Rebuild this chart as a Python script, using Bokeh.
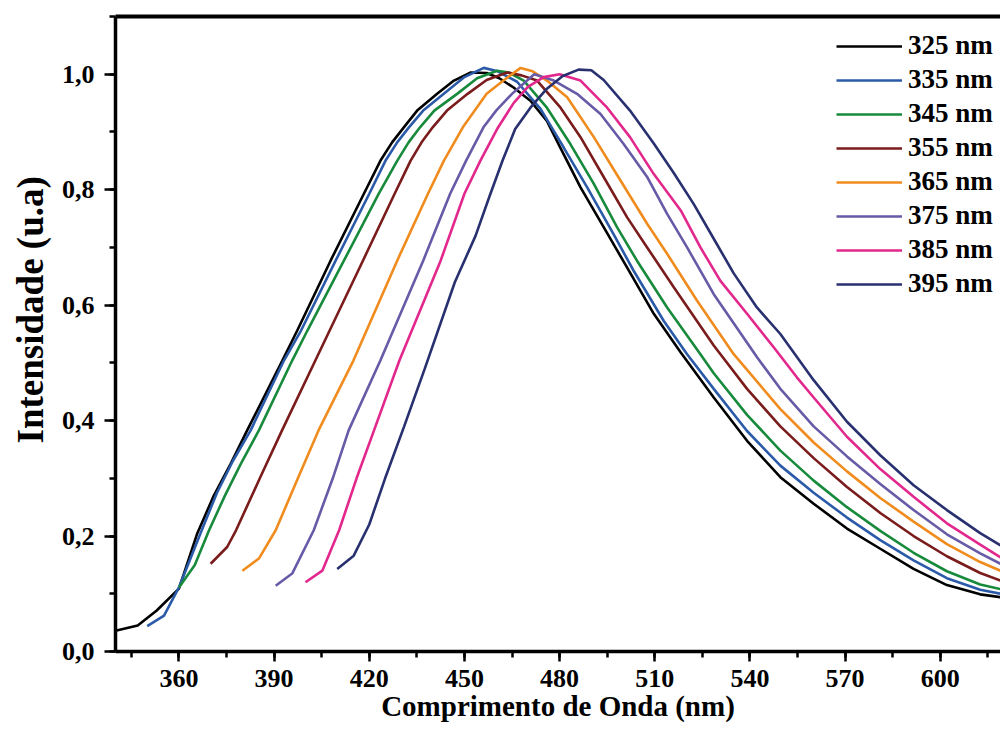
from bokeh.plotting import figure
from bokeh.models import (Range1d, LinearAxis, FixedTicker, SingleIntervalTicker,
                          CustomJSTickFormatter, Legend, LegendItem, Title)
from bokeh.embed import file_html
from bokeh.resources import INLINE

labels = ["325 nm", "335 nm", "345 nm", "355 nm", "365 nm", "375 nm", "385 nm", "395 nm"]
colors = ["#000000", "#2b5ba8", "#178a3c", "#7b1c1c", "#f08c1e", "#675aa6", "#e2288c", "#283070"]

wl_325 = [340, 347, 353, 360, 365.8, 371, 376.3, 381.5, 392.6, 397.3, 407.8, 418.3, 423.5, 427.2, 430.9, 435.1,
          441.4, 446.7, 452, 457, 461, 465.5, 470.8, 476, 480.3, 486.6, 493.9, 501.3, 509.7, 518.2, 528.6,
          539.1, 549.6, 560.1, 570.6, 581.1, 591.6, 602.1, 612.6, 619]
int_325 = [0.036, 0.045, 0.071, 0.109, 0.205, 0.270, 0.325, 0.383, 0.504, 0.556, 0.677, 0.793, 0.850, 0.882, 0.908, 0.937,
           0.966, 0.989, 1.003, 1.002, 0.993, 0.977, 0.954, 0.919, 0.872, 0.804, 0.735, 0.665, 0.585, 0.518, 0.440,
           0.365, 0.302, 0.256, 0.213, 0.178, 0.143, 0.115, 0.099, 0.094]

wl_335 = [350, 355.3, 360, 366.8, 372, 377, 382.6, 393.1, 398.5, 409.4, 420, 425.1, 428.8, 432.5, 437, 443.5,
          450, 456.1, 460.5, 466.6, 474, 481.3, 488.7, 497, 503.3, 512.8, 520.2, 528.6, 539.1, 549.6, 560.1,
          570.6, 581.1, 591.6, 602.1, 612.6, 619]
int_335 = [0.044, 0.062, 0.111, 0.205, 0.275, 0.330, 0.383, 0.504, 0.556, 0.677, 0.793, 0.850, 0.882, 0.908, 0.937, 0.966,
           0.995, 1.011, 1.005, 0.987, 0.940, 0.873, 0.804, 0.723, 0.660, 0.573, 0.515, 0.455, 0.382, 0.322, 0.275,
           0.232, 0.193, 0.158, 0.127, 0.107, 0.100]

wl_345 = [360, 365, 369.5, 374.5, 379.5, 385.2, 395.7, 400.5, 412, 423, 428.8, 432.4, 436, 440.5, 447.7, 454,
          460.3, 464, 468.7, 476, 483.4, 490.8, 498.1, 504.4, 513.9, 524.4, 528.6, 539.1, 549.6, 560.1, 570.6,
          581.1, 591.6, 602.1, 612.6, 619]
int_345 = [0.111, 0.150, 0.210, 0.270, 0.325, 0.383, 0.504, 0.556, 0.677, 0.793, 0.850, 0.882, 0.908, 0.937, 0.966, 0.993,
           1.006, 1.003, 0.989, 0.942, 0.879, 0.810, 0.735, 0.677, 0.596, 0.515, 0.482, 0.410, 0.348, 0.296, 0.250,
           0.209, 0.171, 0.139, 0.116, 0.108]

wl_355 = [370, 375.2, 378, 385.5, 392.5, 403, 418, 428, 433, 436.5, 440, 444.5, 451, 457, 463.5, 468,
          472.9, 480.3, 486.6, 493.9, 501.3, 507.6, 516, 528.6, 539.1, 549.6, 560.1, 570.6, 581.1, 591.6, 602.1,
          612.6, 619]
int_355 = [0.152, 0.181, 0.210, 0.300, 0.383, 0.504, 0.677, 0.793, 0.850, 0.882, 0.908, 0.937, 0.966, 0.990, 1.003, 0.998,
           0.989, 0.942, 0.891, 0.822, 0.752, 0.700, 0.631, 0.530, 0.455, 0.390, 0.335, 0.285, 0.240, 0.200, 0.165,
           0.136, 0.123]

wl_365 = [380, 385.2, 390.5, 397.5, 404, 415, 428.8, 438.5, 443.5, 449.5, 457, 462.5, 467.7, 471.5, 476,
          482.4, 490.8, 499.2, 507.6, 513.9, 523.3, 534.9, 549.6, 560.1, 570.6, 581.1, 591.6, 602.1, 612.6, 619]
int_365 = [0.140, 0.161, 0.210, 0.300, 0.383, 0.504, 0.677, 0.793, 0.850, 0.908, 0.966, 0.990, 1.011, 1.005, 0.989,
           0.960, 0.891, 0.816, 0.741, 0.689, 0.608, 0.515, 0.420, 0.362, 0.312, 0.266, 0.225, 0.186, 0.155, 0.140]

wl_375 = [390.5, 395.7, 402.5, 408.5, 413.5, 423.5, 437, 445.5, 450.5, 456, 460, 465, 472, 478.2, 485.5,
          492.9, 500.2, 507.6, 513.9, 520.2, 528.6, 542.2, 549.6, 560.1, 570.6, 581.1, 591.6, 602.1, 612.6, 619]
int_375 = [0.114, 0.135, 0.210, 0.300, 0.383, 0.504, 0.677, 0.793, 0.850, 0.908, 0.937, 0.966, 1.000, 0.989, 0.966,
           0.931, 0.879, 0.822, 0.758, 0.700, 0.619, 0.510, 0.455, 0.390, 0.338, 0.290, 0.245, 0.203, 0.170, 0.152]

wl_385 = [399.9, 405.2, 410.5, 416, 421.5, 429.5, 442.5, 450, 455, 460.3, 465.5, 470, 475, 480, 486.6,
          495, 502.2, 509.7, 518.2, 524.4, 530.7, 539.1, 547.5, 554.8, 560.1, 570.6, 581.1, 591.6, 602.1, 612.6,
          619]
int_385 = [0.120, 0.140, 0.210, 0.300, 0.383, 0.504, 0.677, 0.793, 0.850, 0.905, 0.950, 0.978, 0.995, 1.000, 0.989,
           0.942, 0.891, 0.827, 0.764, 0.700, 0.642, 0.585, 0.527, 0.475, 0.440, 0.372, 0.316, 0.268, 0.222, 0.185,
           0.163]

wl_395 = [409.9, 415.1, 420, 425, 431, 437.5, 447, 453.5, 458, 462, 466, 470.8, 476, 481, 486,
          490, 493.9, 502.2, 509.7, 516, 522.3, 528.6, 534.9, 542.2, 549.6, 560.1, 570.6, 581.1, 591.6, 602.1,
          612.6, 619]
int_395 = [0.143, 0.166, 0.220, 0.300, 0.390, 0.490, 0.640, 0.720, 0.790, 0.850, 0.905, 0.942, 0.975, 0.997, 1.008,
           1.007, 0.990, 0.937, 0.880, 0.829, 0.775, 0.715, 0.655, 0.596, 0.550, 0.470, 0.398, 0.340, 0.288, 0.245,
           0.205, 0.184]

x_all = [wl_325, wl_335, wl_345, wl_355, wl_365, wl_375, wl_385, wl_395]
y_all = [int_325, int_335, int_345, int_355, int_365, int_375, int_385, int_395]

FONT = "Liberation Serif"

p = figure(frame_width=885, frame_height=635,
           x_range=Range1d(340, 619), y_range=Range1d(0, 1.1),
           output_backend="svg", toolbar_location=None,
           min_border_left=115, min_border_right=0, min_border_top=16, min_border_bottom=40,
           background_fill_color="white", border_fill_color="white")
p.outline_line_color = None
p.grid.visible = False

items = []
for lab, col, xs, ys in zip(labels, colors, x_all, y_all):
    r = p.line(xs, ys, line_color=col, line_width=2.6)
    items.append(LegendItem(label=lab, renderers=[r]))

for ax in (p.xaxis[0], p.yaxis[0]):
    ax.axis_line_width = 3.5
    ax.axis_line_color = "black"
    ax.major_tick_line_width = 2.5
    ax.minor_tick_line_width = 2.5
    ax.major_tick_line_color = "black"
    ax.minor_tick_line_color = "black"
    ax.major_tick_in = 0
    ax.minor_tick_in = 0
    ax.major_label_text_font = FONT
    ax.major_label_text_font_style = "bold"
    ax.major_label_text_font_size = "26px"
    ax.major_label_text_color = "black"
    ax.axis_label_text_font = FONT
    ax.axis_label_text_font_style = "bold"
    ax.axis_label_text_color = "black"

p.xaxis.ticker = SingleIntervalTicker(interval=30, num_minor_ticks=2)
p.xaxis.major_tick_out = 10
p.xaxis.minor_tick_out = 6
p.xaxis.major_label_standoff = 8
p.xaxis.axis_label = "Comprimento de Onda (nm)"
p.xaxis.axis_label_text_font_size = "29px"
p.xaxis.axis_label_standoff = 0

p.yaxis.ticker = SingleIntervalTicker(interval=0.2, num_minor_ticks=2)
p.yaxis.formatter = CustomJSTickFormatter(code="return tick.toFixed(1).replace('.', ',');")
p.yaxis.major_tick_out = 11
p.yaxis.minor_tick_out = 6
p.yaxis.major_label_standoff = 10

ytitle = Title(text="Intensidade (u.a)", align="left", offset=208, standoff=15,
               text_font=FONT, text_font_style="bold", text_font_size="37px", text_color="black")
p.add_layout(ytitle, "left")

top = LinearAxis(ticker=FixedTicker(ticks=[]), major_label_text_font_size="0px",
                 axis_line_width=4, axis_line_color="black", major_tick_out=0, minor_tick_out=0)
p.add_layout(top, "above")

legend = Legend(items=items, location=(721, 352),
                glyph_width=66, glyph_height=28, label_height=28, label_standoff=6,
                spacing=3, padding=0, margin=0,
                border_line_color=None, background_fill_alpha=0,
                label_text_font=FONT, label_text_font_style="bold", label_text_font_size="27px",
                label_text_color="black")
p.add_layout(legend)

open("out.html", "w").write(file_html(p, INLINE))
